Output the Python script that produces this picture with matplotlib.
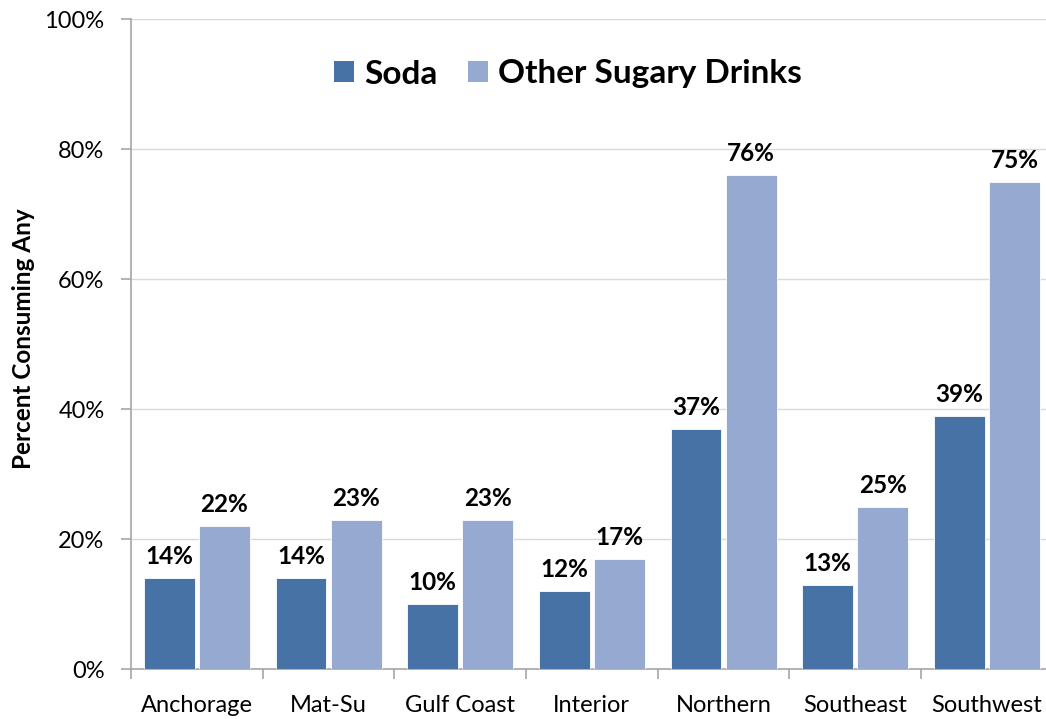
import matplotlib
matplotlib.use("Agg")
import matplotlib.pyplot as plt
import numpy as np
from matplotlib.patches import Patch

plt.rcParams['font.family'] = ['Lato', 'DejaVu Sans']

regions = ["Anchorage", "Mat-Su", "Gulf Coast", "Interior", "Northern", "Southeast", "Southwest"]
soda = [14, 14, 10, 12, 37, 13, 39]
other = [22, 23, 23, 17, 76, 25, 75]
yticks = [0, 20, 40, 60, 80, 100]
series_names = ["Soda", "Other Sugary Drinks"]

c_soda = "#4672A6"
c_other = "#95A9D1"

fig = plt.figure(figsize=(10.46, 7.19), dpi=100)
W, H = 1046, 719
ax = fig.add_axes([131 / W, 50 / H, 921.7 / W, 650 / H])

x = np.arange(len(regions))
bw = 0.385
off = 0.21
b1 = ax.bar(x - off, soda, bw, color=c_soda, edgecolor="white", linewidth=0.6, zorder=3)
b2 = ax.bar(x + off, other, bw, color=c_other, edgecolor="white", linewidth=0.6, zorder=3)

for bars, vals in ((b1, soda), (b2, other)):
    for r, v in zip(bars, vals):
        ax.text(r.get_x() + r.get_width() / 2, v + 1.5, f"{v}%", ha="center", va="bottom",
                fontsize=17.5, fontweight="bold", color="black")

ax.set_xlim(-0.5, len(regions) - 0.5)
ax.set_ylim(0, 100)
ax.set_yticks(yticks)
ax.set_yticklabels([f"{t}%" for t in yticks], fontsize=17)
ax.yaxis.grid(True, color="#D9D9D9", linewidth=1, zorder=0)
ax.set_axisbelow(True)

ax.set_xticks(np.arange(-0.5, len(regions), 1))
ax.set_xticklabels([])
ax.set_xticks(x, minor=True)
ax.set_xticklabels(regions, minor=True, fontsize=17)
ax.tick_params(axis="x", which="minor", length=0, pad=19)
ax.tick_params(axis="x", which="major", length=7, color="#A6A6A6", width=1.2)
ax.tick_params(axis="y", length=7, color="#A6A6A6", width=1.2, pad=12)

for s in ("top", "right"):
    ax.spines[s].set_visible(False)
for s in ("left", "bottom"):
    ax.spines[s].set_color("#A6A6A6")
    ax.spines[s].set_linewidth(1.2)

ax.set_ylabel("Percent Consuming Any", fontsize=17.5, fontweight="bold")
ax.yaxis.set_label_coords(-(131 - 35) / 921.7, (669 - 339) / 650)

handles = [Patch(facecolor=c_soda), Patch(facecolor=c_other)]
leg = ax.legend(handles, series_names, loc="center", bbox_to_anchor=((568 - 131) / 921.7, (669 - 74) / 650),
                ncol=2, frameon=False, prop={"size": 24, "weight": "bold"},
                handlelength=0.6, handleheight=0.6, handletextpad=0.3, columnspacing=0.9)

fig.savefig("out.png", dpi=100)
